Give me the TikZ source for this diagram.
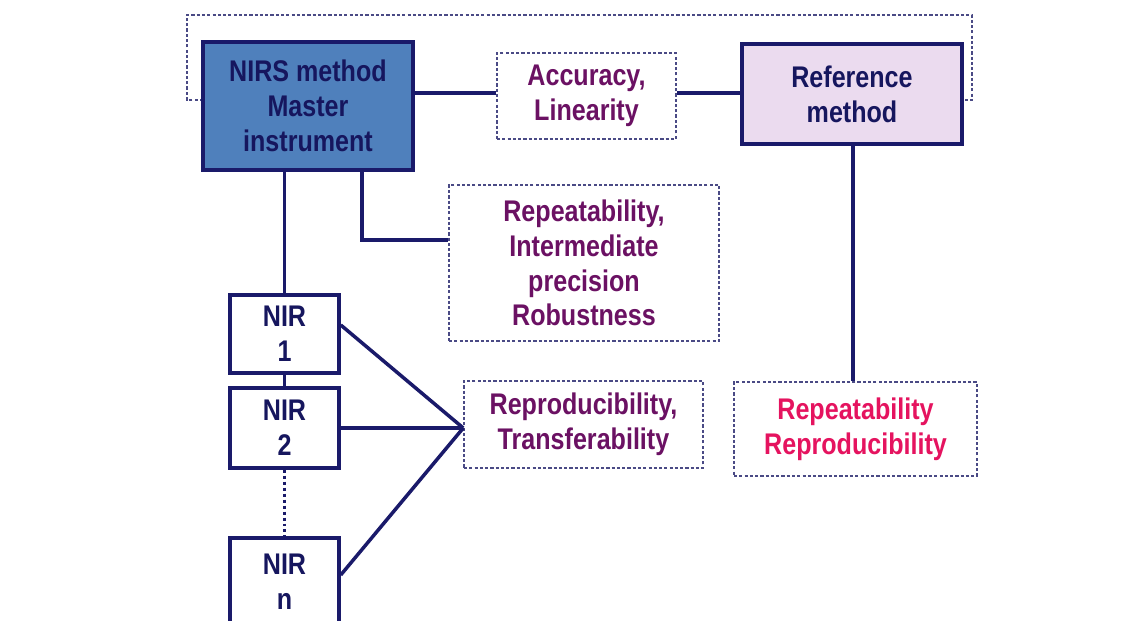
\documentclass[tikz,border=0pt]{standalone}
\usepackage{fontspec}
\setmainfont{Liberation Sans}[FakeStretch=0.84]
\begin{document}
\definecolor{navy}{HTML}{1A1A6A}
\definecolor{navytext}{HTML}{16165E}
\definecolor{purp}{HTML}{6B1163}
\definecolor{pinkred}{HTML}{E5135F}
\definecolor{masterfill}{HTML}{4F80BC}
\definecolor{reffill}{HTML}{EBDBEF}
\definecolor{dashc}{HTML}{4A4A85}
\begin{tikzpicture}[x=0.02cm,y=-0.02cm,
  every node/.style={font=\fontsize{17}{19.8}\selectfont\bfseries, align=center, inner sep=0pt},
  solidbox/.style={draw=navy, line width=2pt, text=navytext},
  dashbox/.style={draw=dashc, line width=0.9pt, dash pattern=on 1.8pt off 1.2pt, fill=white},
  conn/.style={draw=navy, line width=2pt},
  dotconn/.style={draw=navy, line width=2pt, dash pattern=on 1.7pt off 1.7pt}]
\useasboundingbox (0,0) rectangle (1140,621);
\clip (0,0) rectangle (1140,621);
% outer dashed bracket
\coordinate (bl) at (203,100);
\coordinate (br) at (962,100);
\draw[dashc, line width=0.9pt, dash pattern=on 1.8pt off 1.2pt] (bl) -| (187,15) -| (972,100) -- (br);
% boxes
\node[solidbox, fill=masterfill, minimum width=4.2cm, minimum height=2.56cm] (master) at (308,106) {NIRS method\\Master\\instrument};
\node[dashbox, text=purp, minimum width=3.58cm, minimum height=1.72cm] (acc) at (586.5,96) {Accuracy,\\Linearity};
\node[solidbox, fill=reffill, minimum width=4.4cm, minimum height=2.0cm] (ref) at (852,94) {Reference\\method};
\node[dashbox, text=purp, minimum width=5.4cm, minimum height=3.12cm] (rep) at (584,263) {Repeatability,\\Intermediate\\precision\\Robustness};
\node[solidbox, fill=white, minimum width=2.18cm, minimum height=1.56cm] (nir1) at (284.5,334) {NIR\\1};
\node[solidbox, fill=white, minimum width=2.18cm, minimum height=1.6cm] (nir2) at (284.5,428) {NIR\\2};
\node[solidbox, fill=white, minimum width=2.18cm, minimum height=1.76cm] (nirn) at (284.5,582) {NIR\\n};
\node[dashbox, text=purp, minimum width=4.78cm, minimum height=1.74cm] (repro) at (583.5,424.5) {Reproducibility,\\Transferability};
\node[dashbox, text=pinkred, minimum width=4.86cm, minimum height=1.88cm] (rr) at (855.5,429) {Repeatability\\Reproducibility};
\coordinate (conv) at (repro.west |- nir2.east);
% connectors
\path[conn] (master.east |- 0,93) -- (acc.west |- 0,93);
\path[conn] (acc.east |- 0,93) -- (ref.west |- 0,93);
\path[conn] (master.south -| 362,0) |- (rep.west |- 0,240);
\path[conn] (master.south -| nir1.north) -- (nir1.north);
\path[conn] (nir1.south) -- (nir2.north);
\path[dotconn] (nir2.south) -- (nirn.north);
\path[conn] (ref.south -| 853,0) -- (rr.north -| 853,0);
\path[conn] (nir1.east |- 0,325) -- (conv);
\path[conn] (nir2.east) -- (conv);
\path[conn] (nirn.east |- 0,575) -- (conv);
\end{tikzpicture}
\end{document}
